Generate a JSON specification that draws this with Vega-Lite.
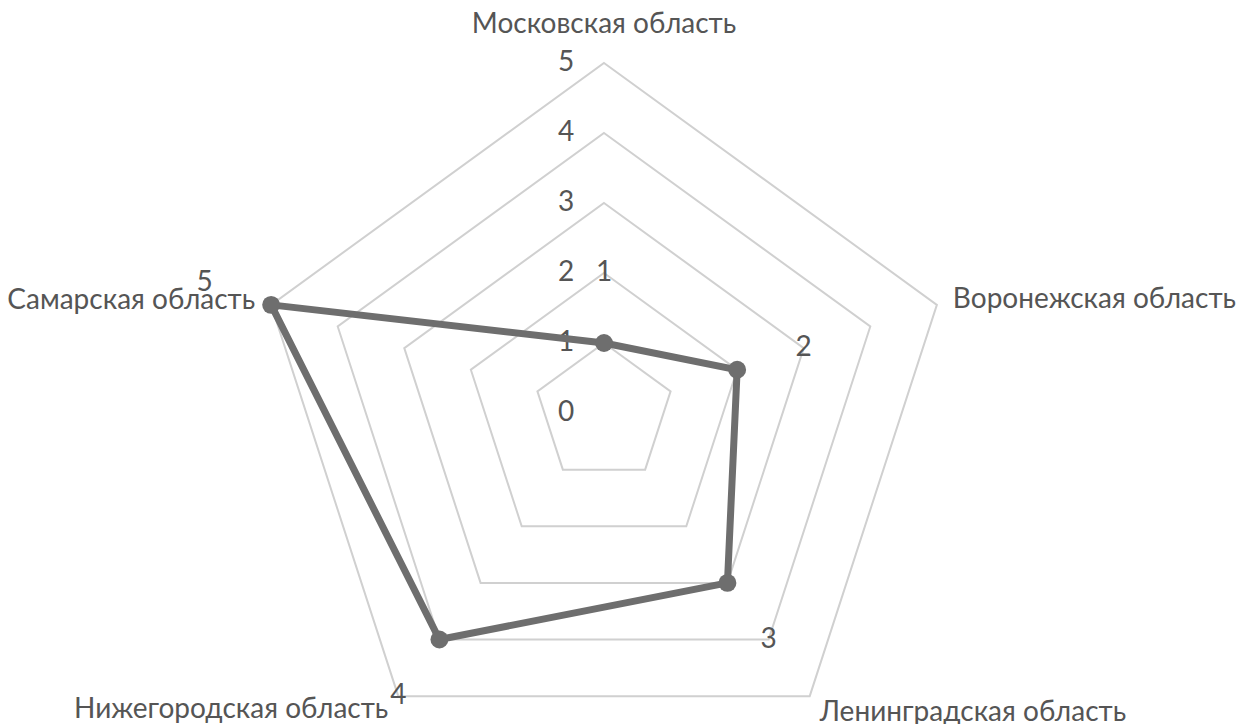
{
  "$schema": "https://vega.github.io/schema/vega-lite/v6.json",
  "width": 1238,
  "height": 724,
  "autosize": "none",
  "padding": 0,
  "background": "white",
  "config": {
    "view": {"stroke": null},
    "text": {"font": "Lato", "fontSize": 28, "color": "#555555"}
  },
  "datasets": {
    "regions": [
      {"region": "Московская область", "idx": 0, "value": 1},
      {"region": "Воронежская область", "idx": 1, "value": 2},
      {"region": "Ленинградская область", "idx": 2, "value": 3},
      {"region": "Нижегородская область", "idx": 3, "value": 4},
      {"region": "Самарская область", "idx": 4, "value": 5}
    ],
    "rings": [
      {"ring": 0, "k": []},
      {"ring": 1, "k": [0, 1, 2, 3, 4]},
      {"ring": 2, "k": [0, 1, 2, 3, 4]},
      {"ring": 3, "k": [0, 1, 2, 3, 4]},
      {"ring": 4, "k": [0, 1, 2, 3, 4]},
      {"ring": 5, "k": [0, 1, 2, 3, 4]}
    ]
  },
  "layer": [
    {
      "data": {"name": "rings"},
      "transform": [
        {"flatten": ["k"]},
        {"calculate": "datum.ring*sin(datum.k*2*PI/5)", "as": "gx"},
        {"calculate": "datum.ring*cos(datum.k*2*PI/5)", "as": "gy"}
      ],
      "mark": {"type": "line", "interpolate": "linear-closed", "color": "#d0d0d0", "strokeWidth": 2},
      "encoding": {
        "x": {"field": "gx", "type": "quantitative", "scale": {"domain": [-8.6286, 9.0571], "nice": false, "zero": false}, "axis": null},
        "y": {"field": "gy", "type": "quantitative", "scale": {"domain": [-4.4429, 5.9], "nice": false, "zero": false}, "axis": null},
        "detail": {"field": "ring"},
        "order": {"field": "k"}
      }
    },
    {
      "data": {"name": "rings"},
      "mark": {"type": "text", "align": "center", "baseline": "middle", "dx": -38},
      "encoding": {
        "x": {"datum": 0, "type": "quantitative"},
        "y": {"field": "ring", "type": "quantitative"},
        "text": {"field": "ring"}
      }
    },
    {
      "data": {"name": "regions"},
      "transform": [
        {"calculate": "datum.value*sin(datum.idx*2*PI/5)", "as": "px"},
        {"calculate": "datum.value*cos(datum.idx*2*PI/5)", "as": "py"}
      ],
      "mark": {"type": "line", "interpolate": "linear-closed", "color": "#6e6e6e", "strokeWidth": 7},
      "encoding": {
        "x": {"field": "px", "type": "quantitative"},
        "y": {"field": "py", "type": "quantitative"},
        "order": {"field": "idx"}
      }
    },
    {
      "data": {"name": "regions"},
      "transform": [
        {"calculate": "datum.value*sin(datum.idx*2*PI/5)", "as": "px"},
        {"calculate": "datum.value*cos(datum.idx*2*PI/5)", "as": "py"}
      ],
      "mark": {"type": "circle", "color": "#6e6e6e", "opacity": 1, "size": 320},
      "encoding": {
        "x": {"field": "px", "type": "quantitative"},
        "y": {"field": "py", "type": "quantitative"}
      }
    },
    {
      "data": {"name": "regions"},
      "transform": [
        {"calculate": "(datum.value+1)*sin(datum.idx*2*PI/5)", "as": "lx"},
        {"calculate": "(datum.value+1)*cos(datum.idx*2*PI/5)", "as": "ly"}
      ],
      "mark": {"type": "text", "align": "center", "baseline": "middle"},
      "encoding": {
        "x": {"field": "lx", "type": "quantitative"},
        "y": {"field": "ly", "type": "quantitative"},
        "text": {"field": "value"}
      }
    },
    {
      "data": {"name": "regions"},
      "transform": [
        {"filter": "datum.idx == 0"},
        {"calculate": "5*sin(datum.idx*2*PI/5)", "as": "cx"},
        {"calculate": "5*cos(datum.idx*2*PI/5)", "as": "cy"}
      ],
      "mark": {"type": "text", "align": "center", "baseline": "alphabetic", "dy": -30},
      "encoding": {
        "x": {"field": "cx", "type": "quantitative"},
        "y": {"field": "cy", "type": "quantitative"},
        "text": {"field": "region"}
      }
    },
    {
      "data": {"name": "regions"},
      "transform": [
        {"filter": "datum.idx == 1"},
        {"calculate": "5*sin(datum.idx*2*PI/5)", "as": "cx"},
        {"calculate": "5*cos(datum.idx*2*PI/5)", "as": "cy"}
      ],
      "mark": {"type": "text", "align": "left", "baseline": "alphabetic", "dx": 16, "dy": 3},
      "encoding": {
        "x": {"field": "cx", "type": "quantitative"},
        "y": {"field": "cy", "type": "quantitative"},
        "text": {"field": "region"}
      }
    },
    {
      "data": {"name": "regions"},
      "transform": [
        {"filter": "datum.idx == 2"},
        {"calculate": "5*sin(datum.idx*2*PI/5)", "as": "cx"},
        {"calculate": "5*cos(datum.idx*2*PI/5)", "as": "cy"}
      ],
      "mark": {"type": "text", "align": "left", "baseline": "alphabetic", "dx": 10, "dy": 25},
      "encoding": {
        "x": {"field": "cx", "type": "quantitative"},
        "y": {"field": "cy", "type": "quantitative"},
        "text": {"field": "region"}
      }
    },
    {
      "data": {"name": "regions"},
      "transform": [
        {"filter": "datum.idx == 3"},
        {"calculate": "5*sin(datum.idx*2*PI/5)", "as": "cx"},
        {"calculate": "5*cos(datum.idx*2*PI/5)", "as": "cy"}
      ],
      "mark": {"type": "text", "align": "right", "baseline": "alphabetic", "dx": -10, "dy": 22},
      "encoding": {
        "x": {"field": "cx", "type": "quantitative"},
        "y": {"field": "cy", "type": "quantitative"},
        "text": {"field": "region"}
      }
    },
    {
      "data": {"name": "regions"},
      "transform": [
        {"filter": "datum.idx == 4"},
        {"calculate": "5*sin(datum.idx*2*PI/5)", "as": "cx"},
        {"calculate": "5*cos(datum.idx*2*PI/5)", "as": "cy"}
      ],
      "mark": {"type": "text", "align": "right", "baseline": "alphabetic", "dx": -16, "dy": 4},
      "encoding": {
        "x": {"field": "cx", "type": "quantitative"},
        "y": {"field": "cy", "type": "quantitative"},
        "text": {"field": "region"}
      }
    }
  ]
}
